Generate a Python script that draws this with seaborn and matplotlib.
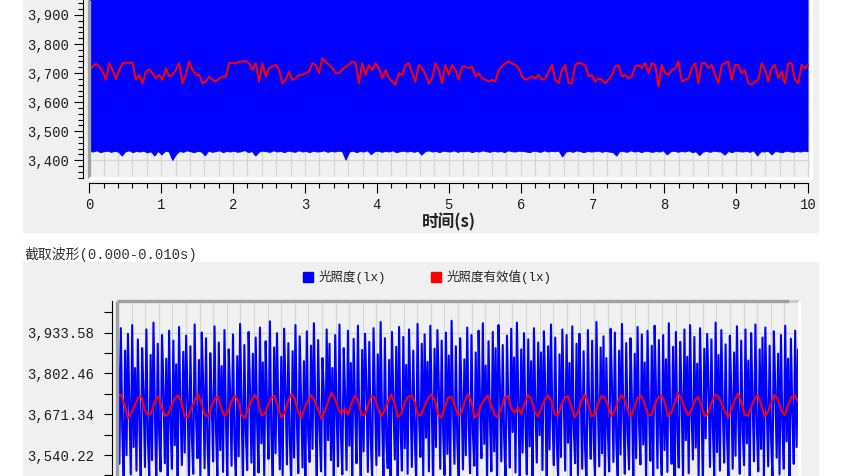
import numpy as np
import pandas as pd
import seaborn as sns
import matplotlib.pyplot as plt
from matplotlib.patches import Rectangle, Patch
from matplotlib.ticker import MultipleLocator, FixedLocator, FuncFormatter

sns.set_theme(style='white')
plt.rcParams['font.family'] = ['Liberation Mono', 'Noto Sans CJK SC', 'DejaVu Sans']

# ---- data: 10 s record (top) ----
# lower edge of the dense raw signal (every 0.05 s), top of the band is off-screen
env_lo = [
    3432, 3430, 3434, 3428, 3431, 3433, 3429, 3432, 3430, 3416,
    3431, 3434, 3428, 3432, 3430, 3433, 3427, 3431, 3416, 3432,
    3420, 3433, 3430, 3401, 3421, 3432, 3429, 3434, 3431, 3428,
    3432, 3430, 3417, 3433, 3429, 3431, 3434, 3428, 3432, 3430,
    3433, 3429, 3431, 3435, 3428, 3432, 3416, 3430, 3433, 3431,
    3429, 3434, 3430, 3432, 3428, 3433, 3431, 3429, 3434, 3430,
    3432, 3428, 3433, 3430, 3431, 3434, 3429, 3432, 3430, 3433,
    3431, 3402, 3430, 3433, 3428, 3432, 3430, 3434, 3421, 3431,
    3433, 3429, 3432, 3430, 3434, 3428, 3431, 3433, 3430, 3432,
    3429, 3433, 3419, 3431, 3434, 3430, 3432, 3428, 3433, 3431,
    3430, 3434, 3429, 3432, 3431, 3433, 3428, 3432, 3430, 3434,
    3431, 3429, 3433, 3430, 3432, 3428, 3434, 3431, 3430, 3433,
    3432, 3430, 3428, 3433, 3431, 3429, 3434, 3430, 3432, 3431,
    3433, 3413, 3430, 3432, 3429, 3434, 3431, 3428, 3432, 3430,
    3431, 3433, 3429, 3432, 3430, 3428, 3416, 3433, 3431, 3429,
    3434, 3430, 3432, 3428, 3433, 3431, 3429, 3432, 3430, 3434,
    3420, 3431, 3433, 3429, 3432, 3430, 3434, 3428, 3431, 3418,
    3430, 3432, 3429, 3433, 3431, 3430, 3419, 3432, 3428, 3433,
    3431, 3430, 3432, 3429, 3434, 3416, 3431, 3430, 3433, 3420,
    3432, 3430, 3428, 3433, 3431, 3429, 3432, 3430, 3433, 3431,
]
env_top = 4010

# rms value over the 10 s record
rms_long = [
    3711, 3723, 3732, 3723, 3705, 3677, 3734, 3711, 3679, 3711, 3734, 3736, 3735, 3736, 3677,
    3694, 3665, 3705, 3713, 3700, 3682, 3694, 3677, 3717, 3688, 3694, 3711, 3734, 3665, 3694,
    3740, 3711, 3694, 3694, 3665, 3671, 3688, 3677, 3671, 3682, 3688, 3688, 3734, 3736, 3734,
    3738, 3740, 3742, 3734, 3711, 3734, 3671, 3734, 3688, 3717, 3723, 3728, 3711, 3665, 3677,
    3705, 3677, 3682, 3694, 3694, 3700, 3705, 3734, 3728, 3700, 3751, 3740, 3728,
    3717, 3700, 3700, 3711, 3723, 3728, 3740, 3734, 3665, 3734, 3694, 3728, 3711, 3734, 3717,
    3682, 3711, 3682, 3671, 3660, 3700, 3694, 3728, 3734, 3700, 3671, 3728, 3717, 3694, 3665,
    3682, 3734, 3711, 3665, 3728, 3694, 3728, 3711, 3677, 3723, 3723, 3717, 3723, 3688, 3700,
    3682, 3677, 3671, 3677, 3671, 3711, 3723, 3734, 3740, 3734, 3728, 3717, 3688, 3677, 3682,
    3688, 3682, 3694, 3677, 3682, 3705, 3728, 3677, 3665, 3711, 3728, 3665,
    3665, 3728, 3736, 3732, 3725, 3688, 3694, 3671, 3682, 3677, 3665, 3677, 3694, 3723, 3728,
    3688, 3694, 3682, 3688, 3723, 3728, 3717, 3734, 3700, 3734, 3728, 3654, 3728, 3700, 3694,
    3711, 3717, 3740, 3671, 3677, 3682, 3717, 3734, 3665, 3734, 3734, 3717, 3728, 3694, 3665,
    3728, 3734, 3740, 3677, 3728, 3728, 3700, 3711, 3665, 3660, 3671, 3677, 3734, 3711, 3671,
    3717, 3728, 3682, 3705, 3665, 3734, 3734, 3677, 3665, 3728, 3717, 3728,
]

# ---- data: 0.000-0.010 s excerpt (bottom) ----
wave = [
    3905, 3512, 3948, 3620, 3462, 3876, 3540, 3930, 3702, 3478,
    3958, 3566, 3820, 3490, 3912, 3648, 3455, 3884, 3736, 3502,
    3944, 3598, 3470, 3862, 3524, 3966, 3680, 3446, 3898, 3612,
    3488, 3926, 3756, 3514, 3850, 3458, 3940, 3634, 3496, 3908,
    3572, 3832, 3466, 3952, 3688, 3508, 3872, 3548, 3924, 3726,
    3452, 3890, 3604, 3480, 3960, 3656, 3530, 3846, 3472, 3934,
    3770, 3498, 3916, 3586, 3444, 3868, 3712, 3520, 3954, 3626,
    3468, 3902, 3556, 3826, 3486, 3942, 3664, 3460, 3880, 3740,
    3506, 3928, 3590, 3474, 3858, 3536, 3962, 3696, 3450, 3894,
    3618, 3492, 3936, 3748, 3516, 3866, 3464, 3918, 3642, 3484,
    3950, 3578, 3838, 3470, 3906, 3704, 3528, 3970, 3610, 3458,
    3886, 3546, 3932, 3672, 3494, 3856, 3476, 3946, 3760, 3510,
    3900, 3594, 3448, 3874, 3532, 3958, 3650, 3482, 3922, 3718,
    3500, 3842, 3462, 3938, 3602, 3518, 3892, 3560, 3964, 3684,
    3456, 3910, 3630, 3488, 3852, 3744, 3470, 3944, 3588, 3898,
    3524, 3820, 3454, 3926, 3676, 3504, 3960, 3616, 3478, 3884,
    3730, 3492, 3940, 3570, 3836, 3466, 3914, 3692, 3514, 3956,
    3640, 3446, 3878, 3552, 3930, 3764, 3486, 3904, 3600, 3468,
    3948, 3720, 3508, 3864, 3538, 3968, 3660, 3474, 3916, 3582,
    3498, 3846, 3460, 3936, 3708, 3526, 3888, 3450, 3952, 3628,
    3490, 3920, 3562, 3830, 3480, 3944, 3742, 3502, 3876, 3606,
    3464, 3962, 3668, 3534, 3898, 3472, 3928, 3596, 3840, 3488,
    3956, 3700, 3452, 3882, 3566, 3942, 3754, 3496, 3908, 3622,
    3476, 3934, 3544, 3860, 3468, 3972, 3690, 3512, 3890, 3584,
    3460, 3916, 3734, 3494, 3848, 3540, 3950, 3644, 3482, 3926,
    3608, 3506, 3870, 3458, 3940, 3716, 3530, 3964, 3576, 3828,
    3470, 3906, 3654, 3488, 3936, 3552, 3884, 3448, 3958, 3766,
    3520, 3894, 3592, 3466, 3924, 3686, 3500, 3946, 3614, 3854,
    3484, 3966, 3726, 3454, 3880, 3548, 3932, 3638, 3478, 3912,
    3568, 3842, 3462, 3948, 3698, 3516, 3902, 3604, 3870, 3492,
    3938, 3750, 3446, 3890, 3558, 3960, 3666, 3508, 3918, 3590,
    3472, 3864, 3534, 3944, 3710, 3490, 3926, 3580, 3836, 3456,
    3954, 3634, 3514, 3898, 3476, 3930, 3738, 3496, 3874, 3562,
    3450, 3942, 3676, 3528, 3908, 3598, 3466, 3968, 3702, 3504,
    3886, 3546, 3922, 3458, 3852, 3624, 3488, 3946, 3758, 3518,
    3934, 3586, 3468, 3876, 3542, 3962, 3660, 3480, 3900, 3612,
    3494, 3916, 3722, 3460, 3866, 3530, 3952, 3648, 3510, 3928,
    3574, 3838, 3452, 3940, 3694, 3522, 3892, 3468, 3956, 3740,
    3498, 3910, 3602, 3476, 3926, 3556, 3848, 3486, 3964, 3680,
    3512, 3888, 3464, 3936, 3616, 3500, 3904, 3732, 3458, 3944,
    3588, 3856, 3482, 3958, 3670, 3526, 3920, 3564, 3834, 3470,
    3948, 3706, 3448, 3882, 3594, 3930, 3762, 3502, 3912, 3628,
    3474, 3966, 3550, 3862, 3490, 3942, 3688, 3516, 3896, 3606,
    3462, 3924, 3744, 3496, 3870, 3538, 3954, 3652, 3480, 3908,
    3620, 3508, 3944, 3578, 3844, 3454, 3932, 3714, 3520, 3960,
    3640, 3488, 3880, 3560, 3918, 3466, 3950, 3696, 3504, 3892,
    3600, 3472, 3938, 3752, 3532, 3866, 3478, 3926, 3632, 3496,
    3956, 3584, 3850, 3460, 3914, 3676, 3512, 3940, 3566, 3880,
]
rms_short = [
    3732, 3733, 3700, 3658, 3676, 3698, 3724,
    3730, 3686, 3668, 3676, 3712, 3728,
    3700, 3666, 3671, 3700, 3720, 3733,
    3712, 3664, 3662, 3690, 3716, 3736,
    3708, 3670, 3664, 3694, 3722, 3728,
    3690, 3665, 3680, 3712, 3732, 3716,
    3670, 3658, 3688, 3714, 3734,
    3716, 3668, 3672, 3701, 3726, 3730,
    3694, 3661, 3676, 3712, 3737,
    3722, 3680, 3660, 3692, 3716, 3733,
    3714, 3686, 3658, 3680, 3710, 3740, 3724,
    3692, 3672, 3690, 3670, 3704, 3731,
    3716, 3670, 3668, 3700, 3730, 3725,
    3690, 3665, 3684, 3714, 3735,
    3706, 3662, 3674, 3708, 3728, 3733,
    3712, 3666, 3670, 3698, 3722, 3736,
    3718, 3672, 3660, 3692, 3724, 3728,
    3700, 3668, 3676, 3712, 3736,
    3714, 3660, 3672, 3702, 3720, 3732,
    3702, 3668, 3662, 3690, 3726, 3730,
    3690, 3676, 3694, 3672, 3708, 3734,
    3720, 3680, 3664, 3692, 3718, 3732,
    3716, 3672, 3668, 3700, 3724, 3730,
    3694, 3662, 3678, 3712, 3735,
    3710, 3664, 3670, 3704, 3730, 3726,
    3698, 3664, 3682, 3712, 3734, 3720,
    3680, 3665, 3698, 3726, 3730,
    3704, 3670, 3668, 3700, 3724, 3732,
    3712, 3664, 3676, 3708, 3740, 3722,
    3692, 3668, 3684, 3714, 3728,
    3700, 3666, 3672, 3706, 3734, 3730,
    3708, 3682, 3662, 3686, 3716, 3738,
    3712, 3670, 3666, 3696, 3722, 3733,
    3700, 3664, 3680, 3710, 3734, 3718,
    3684, 3668, 3700, 3726, 3734, 3712,
]
yticks_short = [3540.22, 3671.34, 3802.46, 3933.58]
yminor_short = [3474.66, 3605.78, 3736.90, 3868.02, 3999.14]
legend_labels = ['光照度(lx)', '光照度有效值(lx)']

BLUE = '#0000ff'
RED = '#ff0000'
PANEL = '#f0f0f0'
GRID = '#d6d6d6'
TXT = '#1e1e1e'

W, H = 847, 476
fig = plt.figure(figsize=(W / 100, H / 100), dpi=100)


def fx(px):
    return px / W


def fy(py):
    return 1 - py / H


# gray panel backgrounds
fig.patches.append(Rectangle((fx(23), fy(232)), fx(818) - fx(23), fy(0) - fy(232),
                             transform=fig.transFigure, color=PANEL, zorder=-5))
fig.patches.append(Rectangle((fx(23), 0), fx(818) - fx(23), fy(262),
                             transform=fig.transFigure, color=PANEL, zorder=-5))


def frame(ax, top_gray=False, bottom_white=False):
    kw = dict(transform=ax.transAxes, clip_on=False, solid_capstyle='butt', zorder=5)
    ax.plot([0, 0], [0, 1], color='#a0a0a0', lw=2.4, **kw)
    if top_gray:
        ax.plot([0, 0.985], [1, 1], color='#a0a0a0', lw=2.4, **kw)
        ax.plot([0.985, 1], [1, 1], color='#c8c8c8', lw=2.0, **kw)
    if bottom_white:
        ax.plot([0, 1], [0, 0], color='white', lw=2.4, **kw)
    ax.plot([1, 1], [0, 1], color='white', lw=2.2, **kw)


# ---------------- top chart ----------------
ax1 = fig.add_axes([fx(89.3), fy(178.3), fx(811) - fx(89.3), fy(0) - fy(178.3)])
ax1.set_facecolor(PANEL)
t_env = np.linspace(0, 9.99, len(env_lo))
ax1.fill_between(t_env, env_lo, env_top, color=BLUE, lw=0.6, edgecolor=BLUE, zorder=2)
long_df = pd.DataFrame({'t': np.linspace(0, 10, len(rms_long)), 'rms': rms_long})
sns.lineplot(data=long_df, x='t', y='rms', color=RED, linewidth=1.4, ax=ax1, zorder=3)

ax1.set_xlim(0, 10.0376)
ax1.set_ylim(3338, 3951.6)
ax1.set_xlabel('')
ax1.set_ylabel('')
ax1.xaxis.set_major_locator(MultipleLocator(1))
ax1.xaxis.set_minor_locator(MultipleLocator(0.2))
ax1.yaxis.set_major_locator(MultipleLocator(100))
ax1.yaxis.set_minor_locator(MultipleLocator(20))
ax1.yaxis.set_major_formatter(FuncFormatter(lambda v, p: f'{v:,.0f}'))
ax1.set_axisbelow(True)
ax1.grid(which='both', axis='x', color=GRID, lw=0.8)
ax1.grid(which='major', axis='y', color=GRID, lw=0.8)

for s in ['top', 'right']:
    ax1.spines[s].set_visible(False)
ax1.spines['left'].set_position(('outward', 4.3))
ax1.spines['bottom'].set_position(('outward', 3.6))
ax1.spines['bottom'].set_bounds(0, 10)
for s in ['left', 'bottom']:
    ax1.spines[s].set_color('black')
    ax1.spines[s].set_linewidth(0.8)
ax1.tick_params(axis='y', which='major', left=True, direction='out', length=6.5, width=0.8,
                color='black', pad=4, labelsize=10, labelcolor=TXT)
ax1.tick_params(axis='y', which='minor', left=True, direction='out', length=3.6, width=0.8, color='black')
ax1.tick_params(axis='x', which='major', bottom=True, direction='out', length=7, width=0.8,
                color='black', pad=3.5, labelsize=10, labelcolor=TXT)
ax1.tick_params(axis='x', which='minor', bottom=True, direction='out', length=3.6, width=0.8, color='black')
frame(ax1, bottom_white=True)

fig.text(fx(449), fy(222.5), '时间(s)', ha='center', va='center', fontsize=12,
         fontweight='bold', family=['Noto Sans CJK SC'], color='#222222')

# ---------------- bottom chart ----------------
fig.text(fx(24), fy(254), '截取波形(0.000-0.010s)', ha='left', va='center', fontsize=10, color='#333333')

ax2 = fig.add_axes([fx(117), 0, fx(799) - fx(117), fy(300.5)])
ax2.set_facecolor(PANEL)
wave_df = pd.DataFrame({'t': np.linspace(0, 0.01, len(wave)), 'v': wave})
sns.lineplot(data=wave_df, x='t', y='v', color=BLUE, linewidth=1.5, ax=ax2, zorder=2)
short_df = pd.DataFrame({'t': np.linspace(0, 0.01, len(rms_short)), 'rms': rms_short})
sns.lineplot(data=short_df, x='t', y='rms', color=RED, linewidth=1.4, ax=ax2, zorder=3)

ax2.set_xlim(-0.0000147, 0.0100147)
ax2.set_ylim(3473, 4037)
ax2.set_xlabel('')
ax2.set_ylabel('')
ax2.xaxis.set_major_locator(MultipleLocator(0.0002))
ax2.yaxis.set_major_locator(FixedLocator(yticks_short))
ax2.yaxis.set_minor_locator(FixedLocator(yminor_short))
ax2.yaxis.set_major_formatter(FuncFormatter(lambda v, p: f'{v:,.2f}'))
ax2.set_axisbelow(True)
ax2.grid(which='major', axis='both', color=GRID, lw=0.8)
for s in ['top', 'right', 'bottom']:
    ax2.spines[s].set_visible(False)
ax2.spines['left'].set_position(('outward', 3.8))
ax2.spines['left'].set_color('black')
ax2.spines['left'].set_linewidth(0.8)
ax2.tick_params(axis='y', which='major', left=True, direction='out', length=5.8, width=0.8,
                color='black', pad=6.5, labelsize=10, labelcolor=TXT)
ax2.tick_params(axis='y', which='minor', left=True, direction='out', length=5.8, width=0.8, color='black')
ax2.tick_params(axis='x', bottom=False, labelbottom=False)
frame(ax2, top_gray=True)

handles = [Patch(color=BLUE), Patch(color=RED)]
fig.legend(handles, legend_labels, loc='center', bbox_to_anchor=(fx(427), fy(277)), ncol=2,
           frameon=False, fontsize=9, handlelength=0.85, handleheight=0.85,
           handletextpad=0.4, columnspacing=3.6, labelcolor='#222222')

fig.savefig('out.png', dpi=100)
